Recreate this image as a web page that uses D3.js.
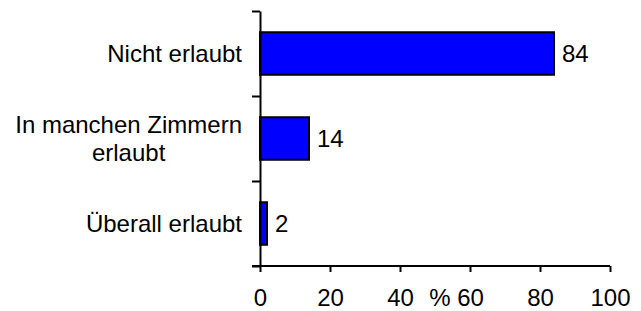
<!DOCTYPE html>
<html lang="de">
<head>
<meta charset="utf-8">
<title>Chart</title>
<script src="https://d3js.org/d3.v7.min.js"></script>
<style>
  body { margin: 0; background: #fff; }
  text { font-family: "Liberation Sans", Arial, sans-serif; font-size: 24px; fill: #000; }
  .axis path, .axis line { stroke: #000; stroke-width: 2px; }
</style>
</head>
<body>
<script>
var categories = ["Nicht erlaubt", "In manchen Zimmern\nerlaubt", "Überall erlaubt"];
var values = [84, 14, 2];
var xTicks = [0, 20, 40, 60, 80, 100];
var xTitle = "%";

var width = 641, height = 311;
var plotL = 260, plotR = 610, plotT = 11, plotB = 266;

var svg = d3.select("body").append("svg")
    .attr("width", width)
    .attr("height", height);

var x = d3.scaleLinear().domain([0, 100]).range([plotL, plotR]);

var y = d3.scaleBand()
    .domain(categories)
    .range([plotT, plotB])
    .paddingInner(0.5)
    .paddingOuter(0.25);

// band boundaries for the y ticks
var yb = d3.scaleLinear().domain([0, categories.length]).range([plotT, plotB]);

// bars
svg.selectAll(".bar")
    .data(values)
  .enter().append("rect")
    .attr("class", "bar")
    .attr("x", x(0))
    .attr("y", function(d, i) { return y(categories[i]); })
    .attr("width", function(d) { return x(d) - x(0); })
    .attr("height", y.bandwidth())
    .style("fill", "#0000ff")
    .style("stroke", "#000")
    .style("stroke-width", 2);

// value labels
svg.selectAll(".val")
    .data(values)
  .enter().append("text")
    .attr("class", "val")
    .attr("x", function(d) { return x(d) + 8; })
    .attr("y", function(d, i) { return y(categories[i]) + y.bandwidth() / 2; })
    .attr("dy", "0.35em")
    .text(function(d) { return d; });

// y axis
svg.append("g")
    .attr("class", "axis")
    .attr("transform", "translate(" + plotL + ",0)")
    .call(d3.axisLeft(yb).tickValues(d3.range(categories.length + 1)).tickFormat("").tickSize(8).tickSizeOuter(0));

// x axis
var xa = svg.append("g")
    .attr("class", "axis")
    .attr("transform", "translate(0," + plotB + ")")
    .call(d3.axisBottom(x).tickValues(xTicks).tickSize(6).tickSizeOuter(0).tickPadding(17));
xa.selectAll("text").style("font-size", "24px").style("font-family", "'Liberation Sans', Arial, sans-serif");
xa.select(".domain").attr("d", "M" + (plotL - 8) + ",0H" + plotR);

svg.append("text")
    .attr("x", 440)
    .attr("y", 306)
    .attr("text-anchor", "middle")
    .text(xTitle);

// category labels, multi-line ones centred on their widest line
categories.forEach(function(c) {
  var lines = c.split("\n");
  var cy = y(c) + y.bandwidth() / 2;
  var t = svg.append("text");
  lines.forEach(function(l) {
    t.append("tspan").text(l);
  });
  var tsp = t.selectAll("tspan");
  var maxW = 0;
  tsp.each(function() { maxW = Math.max(maxW, this.getComputedTextLength()); });
  var lh = 28;
  tsp.attr("x", 242 - maxW / 2)
     .attr("text-anchor", "middle")
     .attr("y", function(d, j) { return cy + (j - (lines.length - 1) / 2) * lh; })
     .attr("dy", "0.35em");
});
</script>
</body>
</html>
